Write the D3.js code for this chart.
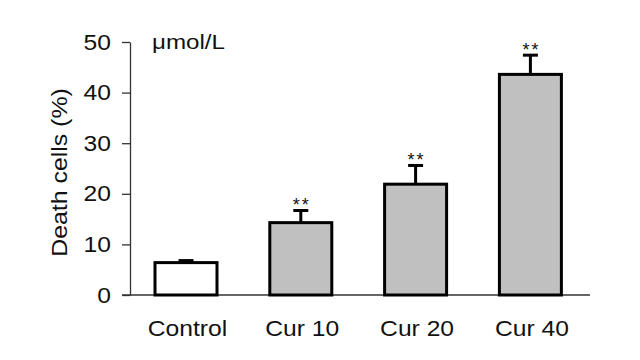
<!DOCTYPE html>
<html>
<head>
<meta charset="utf-8">
<script src="https://cdn.jsdelivr.net/npm/d3@7"></script>
<style>
  html, body { margin: 0; padding: 0; background: #fff; }
  svg { display: block; }
  text { font-family: "Liberation Sans", Arial, sans-serif; fill: #111; }
</style>
</head>
<body>
<svg id="chart" width="640" height="360"></svg>
<script>
const categories = ["Control", "Cur 10", "Cur 20", "Cur 40"];
const values = [6.4, 14.3, 21.9, 43.6];
const errors = [0.4, 2.4, 3.7, 3.8];
const significance = ["", "**", "**", "**"];
const yTicks = [0, 10, 20, 30, 40, 50];
const fills = ["#ffffff", "#c0c0c0", "#c0c0c0", "#c0c0c0"];
const unitLabel = "\u03bcmol/L";
const yTitle = "Death cells (%)";

const svg = d3.select("#chart");
const stretch = 1.12;

const x = d3.scaleBand().domain(categories).range([128.6, 587.8])
  .paddingInner(0.46).paddingOuter(0.23);
const y = d3.scaleLinear().domain([0, 50]).range([295, 42]);

function widen(sel, k) {
  sel.each(function() {
    const w = this.getComputedTextLength();
    d3.select(this).attr("textLength", w * k).attr("lengthAdjust", "spacingAndGlyphs");
  });
}

// Y axis
const yAxis = d3.axisLeft(y).tickValues(yTicks).tickSize(8).tickPadding(11).tickSizeOuter(0);
const gy = svg.append("g").attr("transform", "translate(130,0)").call(yAxis);
gy.select(".domain").attr("stroke", "#333").attr("stroke-width", 1.3);
gy.selectAll(".tick line").attr("stroke", "#333").attr("stroke-width", 1.3);
gy.selectAll(".tick text").attr("font-size", 22).attr("fill", "#111")
  .style("font-family", "'Liberation Sans', Arial, sans-serif");
widen(gy.selectAll(".tick text"), stretch);

// X baseline
svg.append("line")
  .attr("x1", 122).attr("x2", 590)
  .attr("y1", y(0)).attr("y2", y(0))
  .attr("stroke", "#333").attr("stroke-width", 1.3);

// Error bars
const eb = svg.append("g");
categories.forEach((c, i) => {
  const cx = x(c) + x.bandwidth() / 2;
  eb.append("line").attr("x1", cx).attr("x2", cx)
    .attr("y1", y(values[i])).attr("y2", y(values[i] + errors[i]))
    .attr("stroke", "#000").attr("stroke-width", 3);
  eb.append("line").attr("x1", cx - 7.5).attr("x2", cx + 7.5)
    .attr("y1", y(values[i] + errors[i])).attr("y2", y(values[i] + errors[i]))
    .attr("stroke", "#000").attr("stroke-width", 3);
});

// Bars
svg.append("g").selectAll("rect").data(categories).join("rect")
  .attr("x", d => x(d))
  .attr("width", x.bandwidth())
  .attr("y", (d, i) => y(values[i]))
  .attr("height", (d, i) => y(0) - y(values[i]))
  .attr("fill", (d, i) => fills[i])
  .attr("stroke", "#000").attr("stroke-width", 3);

// Significance stars
svg.append("g").selectAll("text").data(categories).join("text")
  .attr("x", d => x(d) + x.bandwidth() / 2 + 1)
  .attr("y", (d, i) => y(values[i] + errors[i]) + 0.5)
  .attr("text-anchor", "middle")
  .attr("font-size", 18)
  .attr("letter-spacing", 2)
  .attr("fill", "#222")
  .text((d, i) => significance[i]);

// Category labels
const cl = svg.append("g").selectAll("text").data(categories).join("text")
  .attr("x", d => x(d) + x.bandwidth() / 2 + 1.5)
  .attr("y", 335.5)
  .attr("text-anchor", "middle")
  .attr("font-size", 22)
  .text(d => d);
widen(cl, stretch);

// Unit label
const ul = svg.append("text").attr("x", 152).attr("y", 48.5)
  .attr("font-size", 21).text(unitLabel);
widen(ul, 1.15);

// Y title
const yt = svg.append("text")
  .attr("transform", "translate(66.5,172.5) rotate(-90)")
  .attr("text-anchor", "middle")
  .attr("font-size", 22)
  .text(yTitle);
widen(yt, 1.13);
</script>
</body>
</html>
